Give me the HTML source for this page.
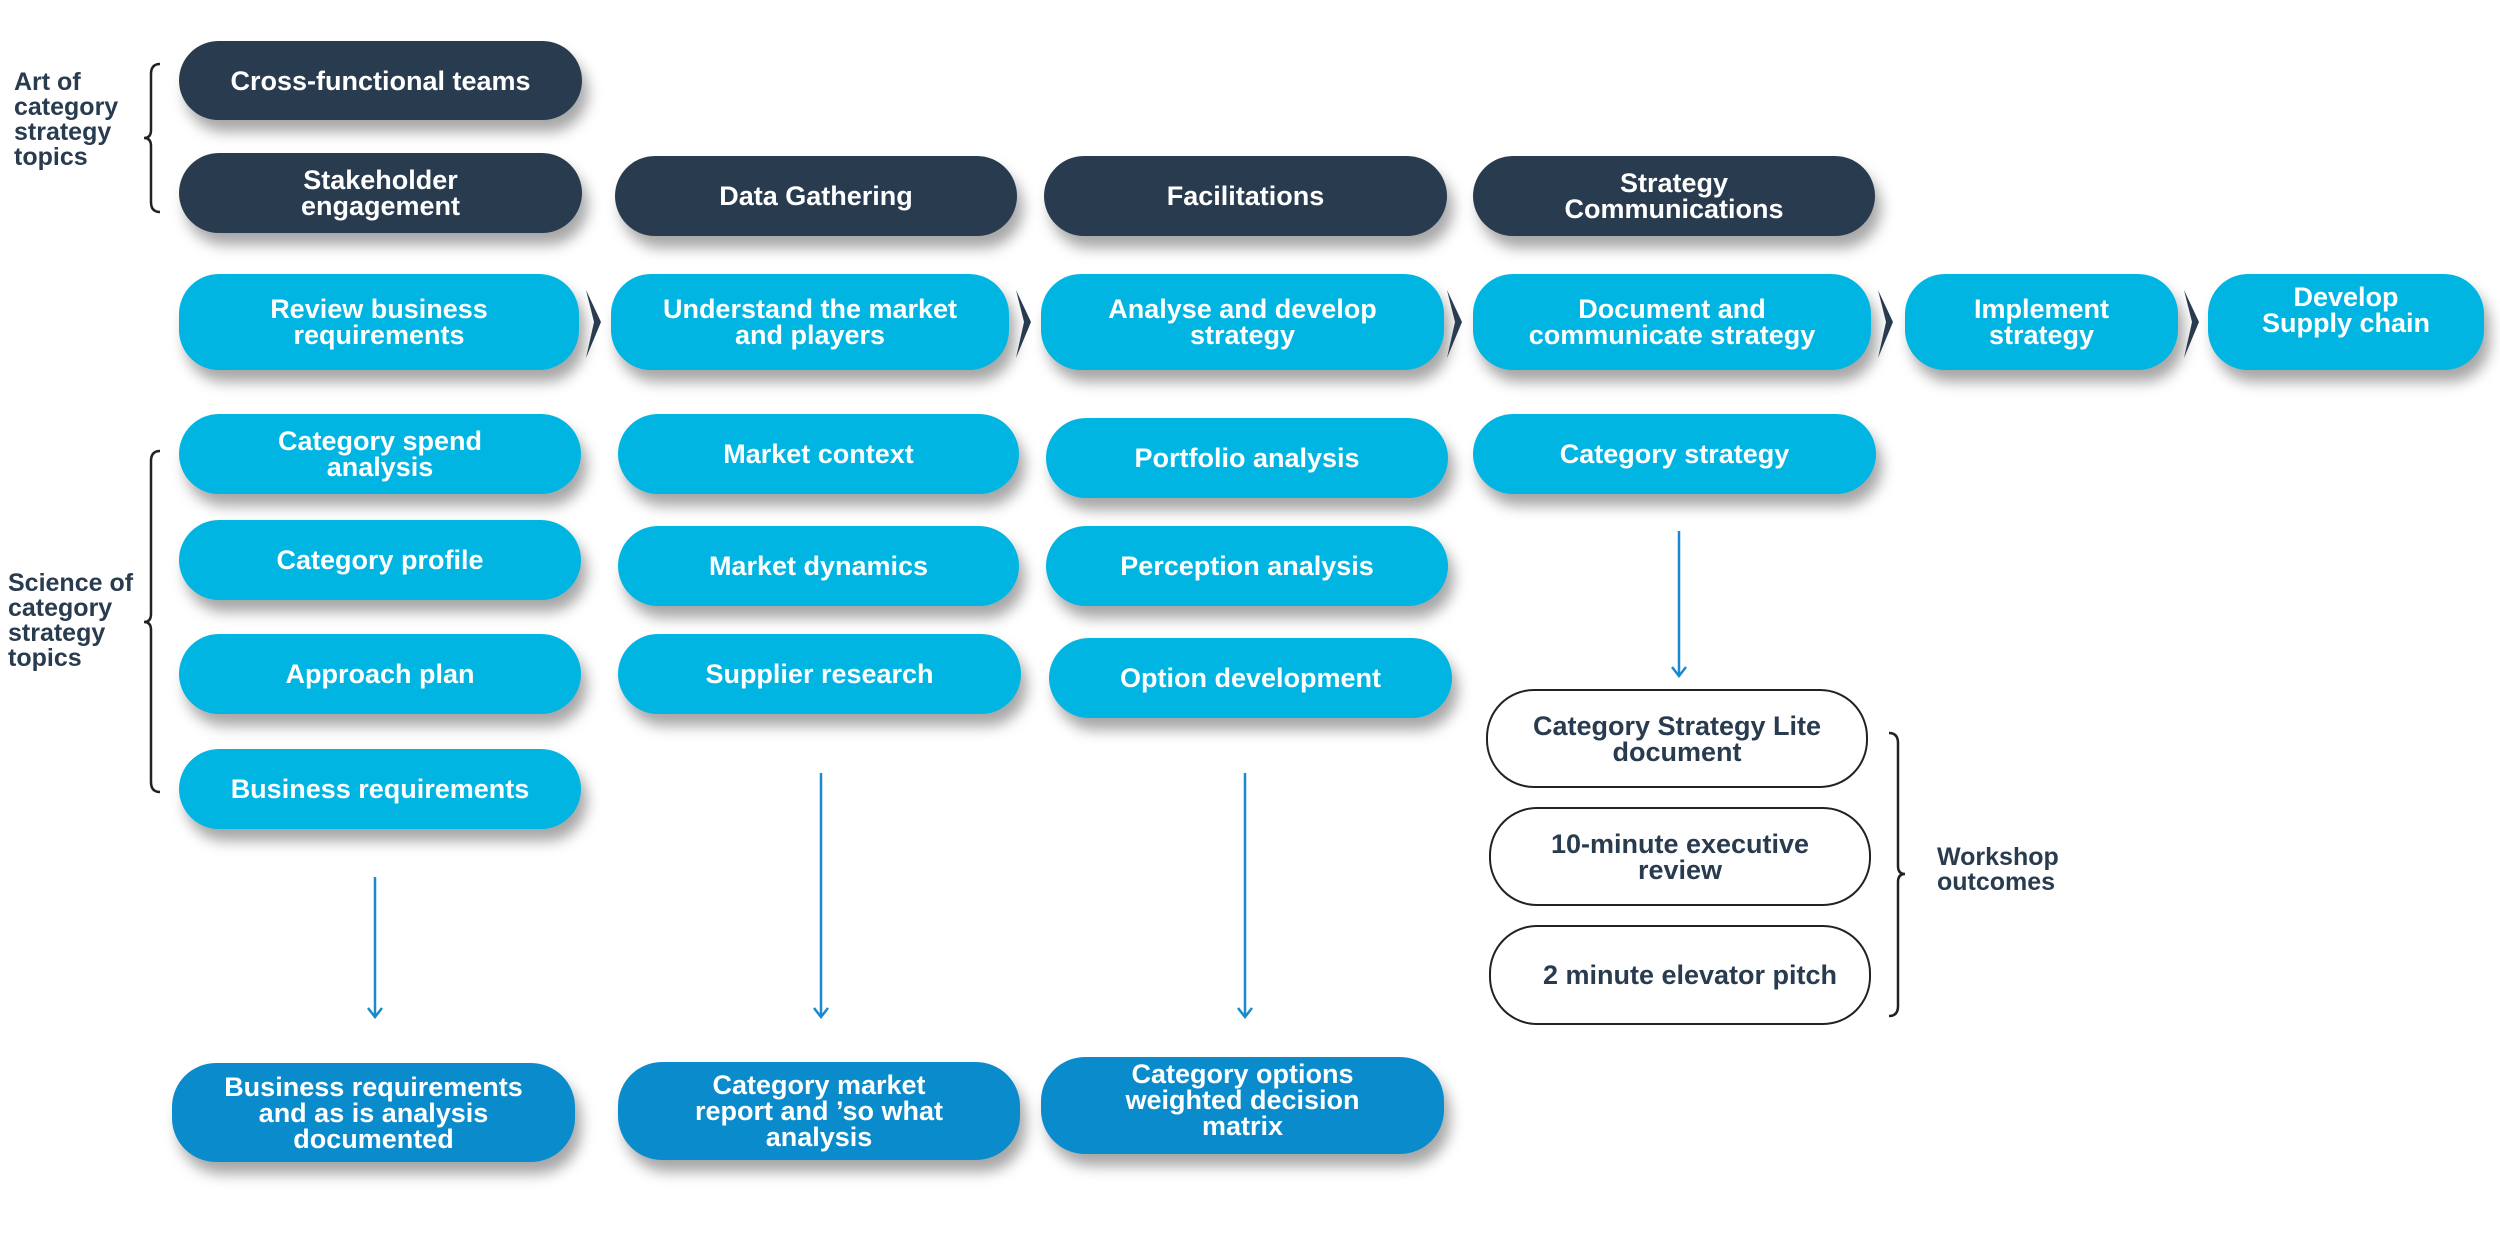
<!DOCTYPE html>
<html><head><meta charset="utf-8"><style>
body{margin:0;width:2500px;height:1250px;background:#fff;position:relative;overflow:hidden;font-family:"Liberation Sans",sans-serif}
.b{position:absolute;display:flex;align-items:center;justify-content:center;text-align:center;color:#fff;font-weight:bold;font-size:27px;line-height:26px;border-radius:40px;box-sizing:border-box;box-shadow:6px 12px 14px rgba(0,0,0,0.35)}
.d{background:#293b4f}
.c{background:#00b5e2}
.k{background:#0a8bcc;border-radius:44px}
.o{background:#fff;color:#293b4f;border:2px solid #222;box-shadow:none;border-radius:48px}
.t{position:absolute;color:#293b4f;font-weight:bold;font-size:25px;line-height:25px}
</style></head><body>
<div class="t" style="left:14px;top:70px">Art of<br>category<br>strategy<br>topics</div>
<div class="t" style="left:8px;top:571px">Science of<br>category<br>strategy<br>topics</div>
<div class="t" style="left:1937px;top:845px">Workshop<br>outcomes</div>

<div class="b d" style="left:179px;top:41px;width:403px;height:79px">Cross-functional teams</div>
<div class="b d" style="left:179px;top:153px;width:403px;height:80px">Stakeholder<br>engagement</div>
<div class="b d" style="left:615px;top:156px;width:402px;height:80px">Data Gathering</div>
<div class="b d" style="left:1044px;top:156px;width:403px;height:80px">Facilitations</div>
<div class="b d" style="left:1473px;top:156px;width:402px;height:80px">Strategy<br>Communications</div>

<div class="b c" style="left:179px;top:274px;width:400px;height:96px">Review business<br>requirements</div>
<div class="b c" style="left:611px;top:274px;width:398px;height:96px">Understand the market<br>and players</div>
<div class="b c" style="left:1041px;top:274px;width:403px;height:96px">Analyse and develop<br>strategy</div>
<div class="b c" style="left:1473px;top:274px;width:398px;height:96px">Document and<br>communicate strategy</div>
<div class="b c" style="left:1905px;top:274px;width:273px;height:96px">Implement<br>strategy</div>
<div class="b c" style="left:2208px;top:274px;width:276px;height:96px;padding-bottom:24px">Develop<br>Supply chain</div>

<div class="b c" style="left:179px;top:414px;width:402px;height:80px">Category spend<br>analysis</div>
<div class="b c" style="left:179px;top:520px;width:402px;height:80px">Category profile</div>
<div class="b c" style="left:179px;top:634px;width:402px;height:80px">Approach plan</div>
<div class="b c" style="left:179px;top:749px;width:402px;height:80px">Business requirements</div>

<div class="b c" style="left:618px;top:414px;width:401px;height:80px">Market context</div>
<div class="b c" style="left:618px;top:526px;width:401px;height:80px">Market dynamics</div>
<div class="b c" style="left:618px;top:634px;width:403px;height:80px">Supplier research</div>

<div class="b c" style="left:1046px;top:418px;width:402px;height:80px">Portfolio analysis</div>
<div class="b c" style="left:1046px;top:526px;width:402px;height:80px">Perception analysis</div>
<div class="b c" style="left:1049px;top:638px;width:403px;height:80px">Option development</div>

<div class="b c" style="left:1473px;top:414px;width:403px;height:80px">Category strategy</div>

<div class="b k" style="left:172px;top:1063px;width:403px;height:99px">Business requirements<br>and as is analysis<br>documented</div>
<div class="b k" style="left:618px;top:1062px;width:402px;height:98px">Category market<br>report and ’so what<br>analysis</div>
<div class="b k" style="left:1041px;top:1057px;width:403px;height:97px;padding-bottom:12px">Category options<br>weighted decision<br>matrix</div>

<div class="b o" style="left:1486px;top:689px;width:382px;height:99px">Category Strategy Lite<br>document</div>
<div class="b o" style="left:1489px;top:807px;width:382px;height:99px">10-minute executive<br>review</div>
<div class="b o" style="left:1489px;top:925px;width:382px;height:100px;padding-left:20px">2 minute elevator pitch</div>

<svg width="2500" height="1250" style="position:absolute;left:0;top:0" fill="none">
<g fill="#293b4f">
<path d="M586 290 L601 322 L586 358 L594 322Z"/>
<path d="M1016 290 L1031 322 L1016 358 L1024 322Z"/>
<path d="M1447 290 L1462 322 L1447 358 L1455 322Z"/>
<path d="M1878 290 L1893 322 L1878 358 L1886 322Z"/>
<path d="M2184 290 L2199 322 L2184 358 L2192 322Z"/>
</g>
<g stroke="#1a8ad0" stroke-width="2.5">
<path d="M375 877V1016M368 1008L375 1017L382 1008"/>
<path d="M821 773V1016M814 1008L821 1017L828 1008"/>
<path d="M1245 773V1016M1238 1008L1245 1017L1252 1008"/>
<path d="M1679 531V675M1672 667L1679 676L1686 667"/>
</g>
<g stroke="#222" stroke-width="2.5">
<path d="M160 64 Q151 64 151 74 V130 Q151 138 144 138 Q151 138 151 146 V202 Q151 212 160 212"/>
<path d="M160 451 Q151 451 151 461 V614 Q151 622 144 622 Q151 622 151 630 V782 Q151 792 160 792"/>
<path d="M1889 733 Q1898 733 1898 743 V866 Q1898 874 1905 874 Q1898 874 1898 882 V1006 Q1898 1016 1889 1016"/>
</g>
</svg>
</body></html>
